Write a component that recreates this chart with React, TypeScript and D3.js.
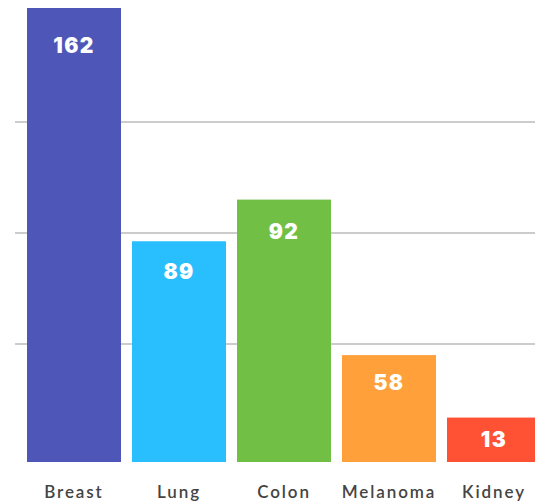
import { scaleBand, scaleLinear } from 'd3'

const categories = ['Breast', 'Lung', 'Colon', 'Melanoma', 'Kidney']
// bar heights as drawn in the picture (Lung and Melanoma are drawn shorter than their labels)
const barValues = [161, 77, 92, 36, 13.5]
// numbers printed on the bars
const valueLabels = ['162', '89', '92', '58', '13']
const gridTicks = [40, 80, 120]
const colors = ['#4e57b8', '#29bfff', '#71c045', '#ffa03b', '#ff5133']

const width = 535
const height = 503

export default function App() {
    const x = scaleBand<string>()
        .domain(categories)
        .range([21.5, 546.5])
        .paddingInner(0.1048)
        .paddingOuter(0.0524)

    const y = scaleLinear()
        .domain([-2.5, 161])
        .range([462, 8])

    const base = y(-2.5)

    return (
        <svg
            width={width}
            height={height}
            style={{ position: 'absolute', left: 0, top: 0, display: 'block', background: '#fff' }}
        >
            <g>
                {gridTicks.map(t => (
                    <line
                        key={t}
                        x1={15}
                        x2={width}
                        y1={Math.round(y(t))}
                        y2={Math.round(y(t))}
                        stroke='#cccccc'
                        strokeWidth={2}
                    />
                ))}
            </g>
            <g>
                {categories.map((c, i) => {
                    const top = y(barValues[i])
                    const h = base - top
                    const ly = top + Math.min(32 + h * 0.028, h / 2 + 7)
                    const cx = x(c)! + x.bandwidth() / 2
                    return (
                        <g key={c}>
                            <rect
                                x={x(c)}
                                y={top}
                                width={x.bandwidth()}
                                height={h}
                                fill={colors[i]}
                            />
                            <text
                                x={cx}
                                y={ly}
                                textAnchor='middle'
                                fill='#fff'
                                fontFamily='Inter, sans-serif'
                                fontWeight={900}
                                fontSize={21}
                                letterSpacing={1.4}
                            >
                                {valueLabels[i]}
                            </text>
                            <text
                                x={cx}
                                y={498}
                                textAnchor='middle'
                                fill='#444'
                                fontFamily='Lato, sans-serif'
                                fontWeight={600}
                                fontSize={17}
                                letterSpacing={1.9}
                            >
                                {c}
                            </text>
                        </g>
                    )
                })}
            </g>
        </svg>
    )
}
